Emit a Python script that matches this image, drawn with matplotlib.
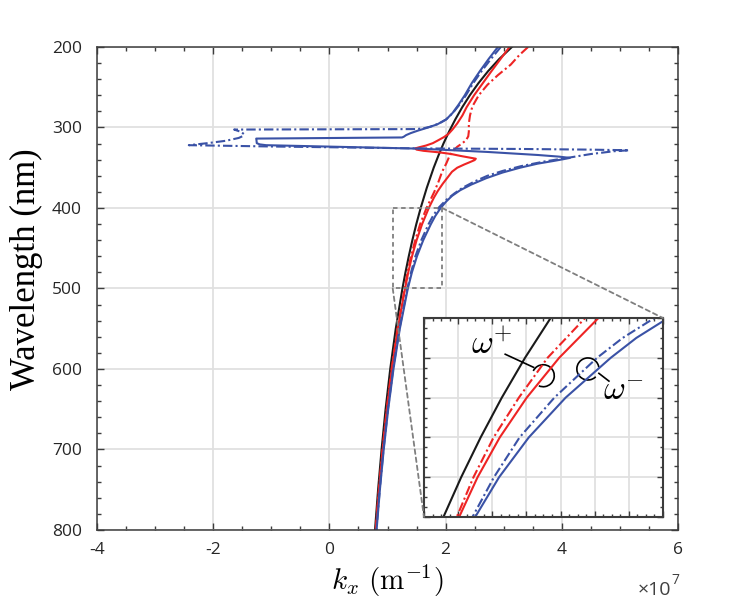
import matplotlib
matplotlib.use("Agg")
import matplotlib.pyplot as plt
from matplotlib.patches import Rectangle, Arc, ConnectionPatch
from matplotlib.ticker import MultipleLocator, NullFormatter

plt.rcParams["font.family"] = ["Open Sans", "DejaVu Sans"]
plt.rcParams["mathtext.fontset"] = "cm"
plt.rcParams["axes.unicode_minus"] = False

# wavelengths in nm, kx in units of 1e7 m^-1
lam_black = [200, 215, 230, 245, 260, 275, 290, 305, 320, 335, 350, 375,
             400, 420, 440, 460, 480, 500, 550, 600, 650, 700, 750, 800]
kx_black = [3.142, 2.922, 2.732, 2.565, 2.417, 2.285, 2.167, 2.060, 1.963, 1.876, 1.795, 1.676,
            1.571, 1.496, 1.428, 1.366, 1.309, 1.257, 1.142, 1.047, 0.967, 0.898, 0.838, 0.785]

lam_red = [200, 215, 230, 245, 260, 275, 285, 295, 302, 308,
           312, 316, 319.5, 322.5, 324.5, 326, 327.5, 329, 331, 333,
           335.4, 337.5, 338.8, 340.5, 343, 346, 350, 355, 362.5, 370,
           379, 387, 396, 400, 420, 440, 460, 480, 500, 550,
           600, 650, 700, 750, 800]
kx_red = [3.100, 2.945, 2.790, 2.640, 2.490, 2.360, 2.290, 2.200, 2.125, 2.050,
          1.970, 1.870, 1.780, 1.660, 1.550, 1.475, 1.500, 1.620, 1.900, 2.100,
          2.260, 2.420, 2.520, 2.500, 2.420, 2.320, 2.200, 2.110, 2.030, 1.950,
          1.865, 1.800, 1.738, 1.711, 1.596, 1.501, 1.422, 1.357, 1.303, 1.178,
          1.076, 0.990, 0.918, 0.854, 0.799]

lam_red_dd = [200, 210, 222, 235, 247, 260, 274, 285, 295, 305,
              311, 316, 320, 324, 329, 335, 345, 355, 367, 380,
              390, 400, 420, 440, 460, 480, 500, 550, 600, 650,
              700, 750, 800]
kx_red_dd = [3.420, 3.270, 3.120, 2.900, 2.720, 2.570, 2.460, 2.420, 2.400, 2.400,
             2.390, 2.350, 2.280, 2.200, 2.130, 2.070, 2.010, 1.940, 1.880, 1.805,
             1.738, 1.672, 1.562, 1.478, 1.404, 1.345, 1.296, 1.172, 1.071, 0.987,
             0.915, 0.852, 0.797]

lam_blue = [200, 215, 230, 245, 260, 272, 282, 290, 296, 300,
            304, 307, 309.5, 311.5, 312.4, 313.8, 316, 319.5, 321, 322,
            326.3, 330.4, 334.2, 336.2, 337.8, 339.5, 341.7, 345, 350, 356,
            363, 371, 378, 385, 392, 400, 410, 420, 440, 460,
            480, 500, 550, 600, 650, 700, 750, 800]
kx_blue = [2.900, 2.740, 2.590, 2.450, 2.330, 2.220, 2.120, 2.010, 1.860, 1.700,
           1.520, 1.400, 1.320, 1.280, 1.250, -1.260, -1.255, -1.250, -1.200, -1.090,
           1.550, 2.720, 3.590, 3.950, 4.140, 4.020, 3.850, 3.580, 3.280, 2.980,
           2.700, 2.440, 2.250, 2.110, 2.010, 1.915, 1.822, 1.747, 1.615, 1.507,
           1.420, 1.350, 1.212, 1.103, 1.012, 0.935, 0.869, 0.812]

lam_blue_dd = [200, 215, 230, 245, 260, 272, 282, 290, 295, 299,
               301, 302, 302.6, 305.5, 308.3, 311, 313, 316.5, 319.5, 322,
               323.6, 326, 326.7, 327.5, 328.3, 329.5, 333, 337.5, 342, 348,
               354, 360, 367, 375, 382, 390, 400, 410, 420, 440,
               460, 480, 500, 550, 600, 650, 700, 750, 800]
kx_blue_dd = [2.950, 2.780, 2.620, 2.475, 2.350, 2.235, 2.125, 2.010, 1.890, 1.740,
              1.620, 1.500, -1.640, -1.520, -1.470, -1.500, -1.560, -1.780, -2.100, -2.420,
              -1.030, 1.550, 3.300, 4.460, 5.160, 4.900, 4.500, 4.120, 3.720, 3.300,
              2.980, 2.720, 2.500, 2.290, 2.150, 2.010, 1.875, 1.782, 1.707, 1.582,
              1.480, 1.405, 1.342, 1.205, 1.097, 1.007, 0.931, 0.866, 0.809]

x_ticks = [-4, -2, 0, 2, 4, 6]
y_ticks = [200, 300, 400, 500, 600, 700, 800]
zoom_box = (1.09, 1.94, 400, 500)      # dashed box drawn on the main axes
inset_xlim = (1.2, 1.9)
inset_ylim = (500, 400)

RED = "#ee2424"
BLUE = "#3a52a6"
BLACK = "#1a1a1a"
DASHDOT = (0, (4.5, 1.5, 1.0, 1.5))
GRID = "#e0e0e0"
SPINE = "#3c3c3c"


def draw_curves(ax, lw=1.5):
    ax.plot(kx_black, lam_black, color=BLACK, lw=lw)
    ax.plot(kx_red_dd, lam_red_dd, color=RED, lw=lw, ls=DASHDOT)
    ax.plot(kx_red, lam_red, color=RED, lw=lw)
    ax.plot(kx_blue_dd, lam_blue_dd, color=BLUE, lw=lw, ls=DASHDOT)
    ax.plot(kx_blue, lam_blue, color=BLUE, lw=lw)


def style_box(ax, lw=1.1):
    for s in ax.spines.values():
        s.set_color(SPINE)
        s.set_linewidth(lw)
    ax.tick_params(which="both", direction="in", top=True, right=True,
                   color=SPINE, width=1.0)
    ax.tick_params(which="major", length=5)
    ax.tick_params(which="minor", length=3)
    ax.grid(True, which="major", color=GRID, lw=1.3)
    ax.set_axisbelow(True)


fig = plt.figure(figsize=(7.48, 6.03), dpi=100)
ax = fig.add_axes([0.1297, 0.1211, 0.7767, 0.8010])
draw_curves(ax)
ax.set_xlim(-4, 6)
ax.set_ylim(800, 200)
ax.set_xticks(x_ticks)
ax.set_yticks(y_ticks)
ax.xaxis.set_minor_locator(MultipleLocator(0.5))
ax.yaxis.set_minor_locator(MultipleLocator(20))
style_box(ax)
ax.tick_params(which="major", labelsize=12.5, labelcolor="#262626")
ax.tick_params(axis="x", pad=9)
ax.tick_params(axis="y", pad=11)

ax.set_ylabel("Wavelength (nm)", family="Liberation Serif", fontsize=25)
ax.yaxis.set_label_coords(-0.093, 0.539)
ax.set_xlabel(r"$k_x\ (\mathrm{m}^{-1})$", fontsize=21)
ax.xaxis.set_label_coords(0.5, -0.068)

fig.text(0.853, 1 - 590 / 603, "×10", ha="left", va="center",
         fontsize=14, color="#404040")
fig.text(0.897, 1 - 580 / 603, "7", ha="left", va="center",
         fontsize=10, color="#404040")

x0, x1, y0, y1 = zoom_box
ax.add_patch(Rectangle((x0, y0), x1 - x0, y1 - y0, fill=False,
                       ls=(0, (2.5, 2)), lw=1.3, color="#7f7f7f", zorder=4))

# inset
axi = fig.add_axes([0.5668, 0.1426, 0.3195, 0.3300])
draw_curves(axi)
axi.set_xlim(*inset_xlim)
axi.set_ylim(*inset_ylim)
axi.xaxis.set_major_locator(MultipleLocator(0.1))
axi.yaxis.set_major_locator(MultipleLocator(20))
axi.xaxis.set_minor_locator(MultipleLocator(0.025))
axi.yaxis.set_minor_locator(MultipleLocator(5))
axi.xaxis.set_major_formatter(NullFormatter())
axi.yaxis.set_major_formatter(NullFormatter())
style_box(axi, lw=1.5)
axi.tick_params(which="major", length=4)
axi.tick_params(which="minor", length=2.5)

for xa, ya, xb, yb in [(x1, y0, 1, 1), (x0, y1, 0, 0)]:
    con = ConnectionPatch(xyA=(xa, ya), coordsA="data", axesA=ax,
                          xyB=(xb, yb), coordsB="axes fraction", axesB=axi,
                          ls=(0, (2.5, 2)), lw=1.3, color="#7f7f7f", zorder=3)
    fig.add_artist(con)

# omega annotations (inset axes fraction)
tr = axi.transAxes
axi.add_patch(Arc((0.499, 0.710), 0.0924, 0.1106, theta1=-110, theta2=150,
                  transform=tr, color="black", lw=1.2))
axi.add_patch(Arc((0.686, 0.744), 0.0924, 0.1106, theta1=10, theta2=310,
                  transform=tr, color="black", lw=1.2))
axi.plot([0.340, 0.459], [0.818, 0.752], transform=tr, color="black", lw=1.2)
axi.plot([0.732, 0.774], [0.722, 0.683], transform=tr, color="black", lw=1.2)
axi.text(0.285, 0.860, r"$\omega^{+}$", transform=tr, fontsize=24,
         ha="center", va="center")
axi.text(0.835, 0.632, r"$\omega^{-}$", transform=tr, fontsize=24,
         ha="center", va="center")

fig.savefig("out.png", dpi=100)
